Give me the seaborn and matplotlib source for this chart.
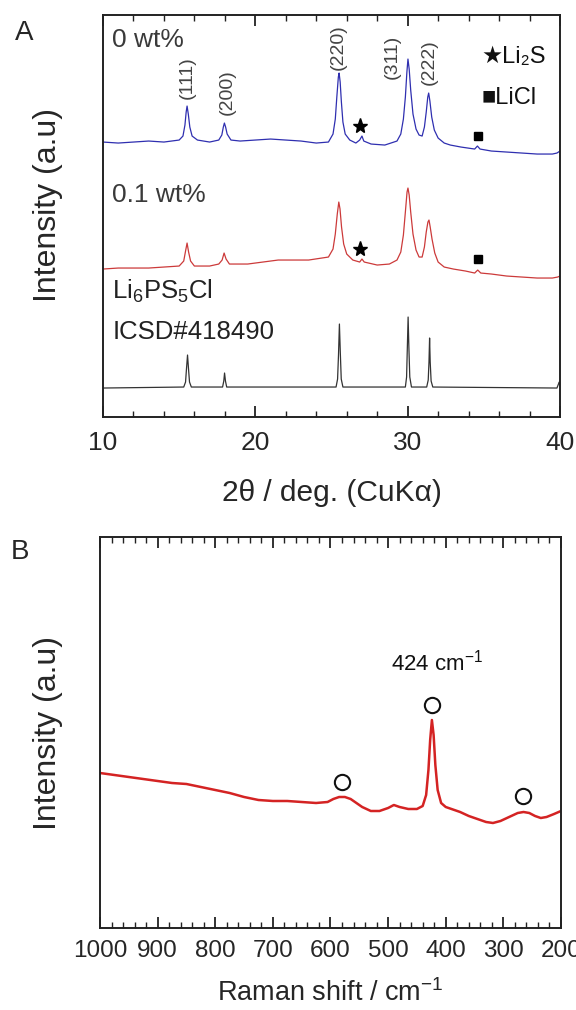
#XRD + Raman panels for Li6PS5Cl
import numpy as np
import pandas as pd
import seaborn as sns
import matplotlib.pyplot as plt
from matplotlib.ticker import MultipleLocator

# ---------------- panel A data (2theta, intensity a.u.) ----------------
xrd_0wt_x = [10.0, 11.0, 12.0, 13.0, 14.0, 15.0, 15.25, 15.38, 15.46, 15.52, 15.6, 15.7, 15.85, 16.2,
             17.0, 17.6, 17.8, 17.9, 17.97, 18.05, 18.15, 18.4, 19.0, 20.0, 21.0, 22.0, 23.0, 24.0,
             24.8, 25.1, 25.25, 25.35, 25.45, 25.5, 25.57, 25.65, 25.75, 25.9, 26.2, 26.6, 26.85,
             27.0, 27.12, 27.6, 28.5, 29.3, 29.55, 29.72, 29.85, 29.95, 30.02, 30.1, 30.2, 30.35,
             30.55, 30.75, 30.95, 31.1, 31.22, 31.32, 31.38, 31.46, 31.58, 31.75, 32.0, 32.4, 32.8,
             33.5, 34.4, 34.58, 34.75, 35.5, 36.5, 37.5, 38.5, 39.5, 39.8, 40.0]
xrd_0wt_y = [275, 274, 275, 276, 275, 277, 281, 292, 305, 311, 303, 290, 281, 277,
             275, 277, 282, 290, 294, 290, 283, 277, 276, 277, 278, 277, 276, 274,
             275, 283, 298, 320, 340, 344, 335, 315, 295, 283, 277, 274, 277,
             281, 276, 273, 272, 276, 283, 298, 320, 345, 358, 348, 327, 303,
             288, 282, 281, 290, 305, 320, 324, 316, 300, 287, 279, 274, 272,
             270, 268, 271, 268, 266, 265, 264, 263, 263, 264, 266]

xrd_01wt_x = [10.0, 11.0, 12.0, 13.0, 14.0, 15.0, 15.3, 15.42, 15.52, 15.62, 15.75, 16.0, 17.0,
              17.6, 17.82, 17.95, 18.08, 18.3, 19.5, 20.5, 21.5, 22.5, 23.5, 24.8, 25.1, 25.25,
              25.38, 25.48, 25.56, 25.66, 25.8, 26.0, 26.4, 26.85, 27.0, 27.15, 28.0, 28.8, 29.3,
              29.55, 29.72, 29.85, 29.96, 30.02, 30.1, 30.2, 30.35, 30.55, 30.75, 30.95, 31.1,
              31.22, 31.33, 31.4, 31.48, 31.6, 31.78, 32.0, 32.4, 33.0, 33.8, 34.4, 34.6, 34.8,
              35.5, 36.5, 37.5, 38.5, 39.5, 39.85, 40.0]
xrd_01wt_y = [148, 149, 149, 149, 150, 151, 156, 166, 174, 165, 156, 151, 151,
              153, 157, 164, 158, 153, 153, 155, 157, 157, 157, 160, 168, 183,
              203, 215, 208, 190, 173, 163, 157, 155, 158, 155, 152, 153, 157,
              165, 182, 205, 225, 229, 222, 205, 183, 167, 160, 160, 170,
              185, 195, 197, 190, 178, 164, 155, 150, 148, 146, 144, 147, 144,
              143, 141, 140, 139, 139, 140, 141]

icsd_x = [10.0, 15.3, 15.42, 15.48, 15.55, 15.62, 15.68, 15.8, 17.85, 17.93, 17.98, 18.04, 18.12,
          25.3, 25.4, 25.46, 25.52, 25.58, 25.64, 25.75, 29.85, 29.93, 29.98, 30.03, 30.08, 30.14,
          30.25, 31.25, 31.35, 31.4, 31.44, 31.48, 31.54, 31.65, 39.8, 39.95, 40.0]
icsd_y = [29, 30, 35, 48, 62, 47, 35, 30, 30, 36, 44, 36, 30,
          30, 38, 62, 93, 64, 38, 30, 30, 40, 70, 100, 70, 40,
          30, 30, 37, 55, 79, 55, 36, 30, 29, 35, 34]

hkl_labels = ["(111)", "(200)", "(220)", "(311)", "(222)"]
hkl_x = [15.55, 18.14, 25.43, 28.98, 31.4]
hkl_y = [339, 325, 370, 360, 355]

li2s_x = [26.9, 26.9]
li2s_y = [291, 168]
licl_x = [34.6, 34.6]
licl_y = [281, 158]

# ---------------- panel B data (Raman shift, intensity a.u.) ----------------
raman_x = [1000, 975, 950, 925, 900, 875, 850, 825, 800, 775, 750, 725, 700, 675, 650, 625, 605,
           595, 585, 575, 565, 555, 545, 530, 515, 500, 490, 480, 465, 450, 440, 434, 430, 427,
           424, 421, 418, 414, 408, 400, 390, 375, 360, 345, 330, 318, 305, 290, 275, 265, 255,
           245, 235, 225, 212, 200]
raman_y = [155, 153, 151, 149, 147, 145, 144, 141, 138, 135, 131, 128, 127, 127, 126, 125, 126,
           129, 131, 131, 129, 125, 121, 117, 117, 120, 123, 121, 119, 119, 122, 133, 158, 188,
           208, 193, 163, 138, 125, 121, 119, 116, 112, 109, 106, 105, 107, 111, 115, 116, 115,
           112, 110, 111, 114, 117]

circle_x = [580, 424, 266]
circle_y = [146, 223, 132]

sns.set_theme(style="ticks")
plt.rcParams['font.family'] = ['Liberation Sans', 'DejaVu Sans']
plt.rcParams['mathtext.fontset'] = 'custom'
plt.rcParams['mathtext.rm'] = 'Liberation Sans'
plt.rcParams['mathtext.it'] = 'Liberation Sans'
plt.rcParams['mathtext.default'] = 'regular'

fig = plt.figure(figsize=(5.76, 10.10), dpi=100)
axA = fig.add_axes([0.1788, 0.5871, 0.7934, 0.398])
axB = fig.add_axes([0.1736, 0.0812, 0.8003, 0.3871])

dfA0 = pd.DataFrame({"x": xrd_0wt_x, "y": xrd_0wt_y})
dfA1 = pd.DataFrame({"x": xrd_01wt_x, "y": xrd_01wt_y})
dfRef = pd.DataFrame({"x": icsd_x, "y": icsd_y})
sns.lineplot(x="x", y="y", data=dfA0, ax=axA, color="#2f2fb0", lw=0.9)
sns.lineplot(x="x", y="y", data=dfA1, ax=axA, color="#cc3a3a", lw=0.9)
sns.lineplot(x="x", y="y", data=dfRef, ax=axA, color="#333333", lw=0.9)

axA.plot(li2s_x, li2s_y, ls="none", marker="*", ms=11, color="black")
axA.plot(licl_x, licl_y, ls="none", marker="s", ms=6, color="black")

for lab, hx, hy in zip(hkl_labels, hkl_x, hkl_y):
    axA.text(hx, hy, lab, rotation=90, ha="center", va="center", fontsize=14, color="#444444")

txt_gray = "#3a3a3a"
axA.text(0.02, 0.938, "0 wt%", transform=axA.transAxes, fontsize=19, color=txt_gray, va="center")
axA.text(0.02, 0.552, "0.1 wt%", transform=axA.transAxes, fontsize=19, color=txt_gray, va="center")
axA.text(0.02, 0.313, "Li$_6$PS$_5$Cl", transform=axA.transAxes, fontsize=18.5, color="#222222", va="center")
axA.text(0.02, 0.211, "ICSD#418490", transform=axA.transAxes, fontsize=18.5, color="#222222", va="center")
# legend-like keys for impurity phases
key_font = ["Liberation Sans", "DejaVu Sans"]
axA.text(0.829, 0.896, "★Li₂S", transform=axA.transAxes, fontsize=17, color="#111111", va="center",
         family=key_font)
axA.text(0.829, 0.794, "■LiCl", transform=axA.transAxes, fontsize=17, color="#111111", va="center",
         family=key_font)

axA.set_xlim(10, 40)
axA.set_ylim(0, 402)
axA.xaxis.set_major_locator(MultipleLocator(10))
axA.xaxis.set_minor_locator(MultipleLocator(2))
axA.set_yticks([])
axA.set_xlabel("2θ / deg. (CuKα)", fontsize=21.5, labelpad=17)
axA.set_ylabel("Intensity (a.u)", fontsize=23)
axA.yaxis.set_label_coords(-0.0875, 0.527)

# ---------------- panel B ----------------
dfB = pd.DataFrame({"x": raman_x, "y": raman_y})
sns.lineplot(x="x", y="y", data=dfB, ax=axB, color="#d42323", lw=1.8)
axB.plot(circle_x, circle_y, ls="none", marker="o", ms=11, mfc="none", mec="#111111", mew=1.5)
axB.text(415, 265, "424 cm$^{-1}$", ha="center", va="center", fontsize=16, color="#111111")

axB.set_xlim(1000, 200)
axB.set_ylim(0, 391)
axB.xaxis.set_major_locator(MultipleLocator(100))
axB.xaxis.set_minor_locator(MultipleLocator(20))
axB.set_yticks([])
axB.set_xlabel("Raman shift / cm$^{-1}$", fontsize=19.5, labelpad=12)
axB.set_ylabel("Intensity (a.u)", fontsize=23)
axB.yaxis.set_label_coords(-0.080, 0.5)

for ax, fs, pd_ in ((axA, 19, 10), (axB, 17.5, 9)):
    for sp in ax.spines.values():
        sp.set_visible(True)
        sp.set_linewidth(1.4)
        sp.set_color("#222222")
    ax.tick_params(axis="x", which="both", direction="in", top=True, bottom=True, color="#222222")
    ax.tick_params(axis="x", which="major", length=8, width=1.3, labelsize=fs, pad=pd_)
    ax.tick_params(axis="x", which="minor", length=4.5, width=1.0)

fig.text(24 / 576, 1 - 33 / 1010, "A", fontsize=20, ha="center", va="center")
fig.text(20 / 576, 1 - 552 / 1010, "B", fontsize=20, ha="center", va="center")

fig.savefig("out.png", dpi=100)
